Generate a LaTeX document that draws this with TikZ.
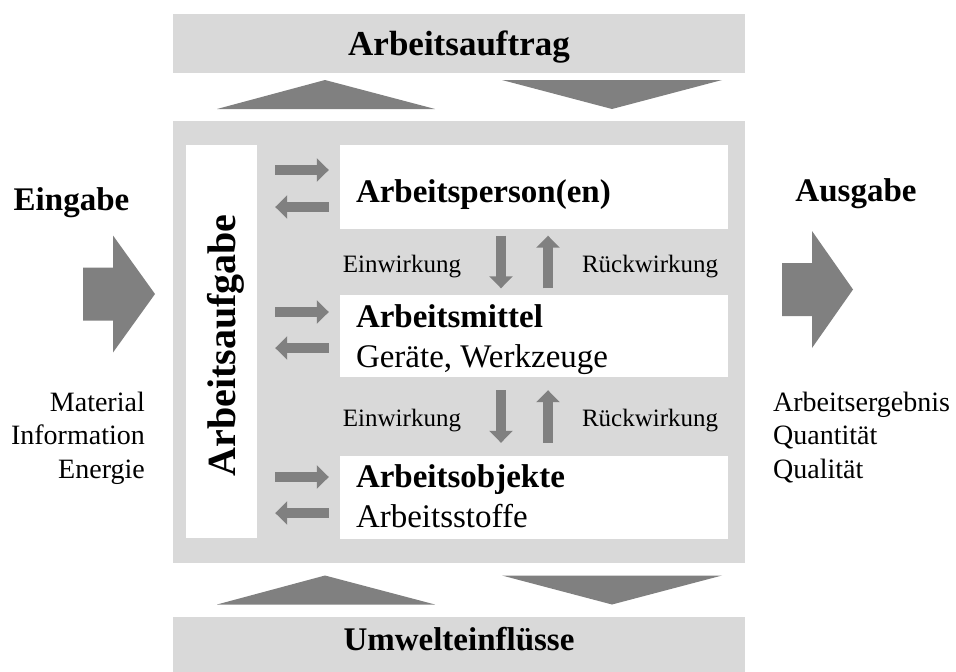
\documentclass[tikz,border=0pt]{standalone}
\usepackage{fontspec}
\setmainfont{Liberation Serif}
\usepackage{tikz}
\usetikzlibrary{arrows.meta,calc}

\definecolor{panelgray}{HTML}{D9D9D9}
\definecolor{arrowgray}{HTML}{808080}

\newcommand{\hdfont}{\fontsize{33}{40}\selectfont\bfseries}
\newcommand{\txfont}{\fontsize{33}{40}\selectfont}
\newcommand{\smfont}{\fontsize{25}{30}\selectfont}
\newcommand{\sdfont}{\fontsize{28}{33}\selectfont}
\newcommand{\vtfont}{\fontsize{40}{48}\selectfont\bfseries}

\begin{document}
\begin{tikzpicture}[
  x=1pt, y=-1pt,
  panel/.style={fill=panelgray, inner sep=0pt, minimum width=572pt},
  whitebox/.style={fill=white, inner sep=0pt},
  title/.style={font=\hdfont, inner sep=0pt, anchor=base},
  boxtitle/.style={font=\hdfont, inner sep=0pt, anchor=base west},
  boxtext/.style={font=\txfont, inner sep=0pt, anchor=base west},
  effect/.style={font=\smfont, text=black, inner sep=0pt},
  sidetext/.style={font=\sdfont, inner sep=0pt},
  flow/.style={line width=10pt, arrowgray, -{Triangle[length=12pt, width=23pt]}},
  wedge/.style={fill=arrowgray},
]

\fill[white] (0,0) rectangle (956,672);
\useasboundingbox (0,0) rectangle (956,672);

% Arbeitsauftrag
\node[panel, minimum height=59pt] (auftrag) at (459,43.5) {};
\node[title, font=\fontsize{35}{40}\selectfont\bfseries] (auftraglbl) at ($(auftrag.center)+(0,11.5)$) {Arbeitsauftrag};
\fill[wedge] (217,109) -- (325,80) -- (435,109) -- cycle;
\fill[wedge] (502,80) -- (722,80) -- (612,109) -- cycle;

% Arbeitssystem
\node[panel, minimum height=442pt] (system) at (459,342) {};

% Arbeitsaufgabe
\node[whitebox, minimum width=71pt, minimum height=393pt] (aufgabe) at (221.5,341.5) {};
\node[font=\vtfont, inner sep=0pt, rotate=90, anchor=base] (aufgabelbl) at (235,345.5) {Arbeitsaufgabe};

% Elemente
\node[whitebox, minimum width=388pt, minimum height=84pt] (person) at (534,187) {};
\node[whitebox, minimum width=388pt, minimum height=82pt] (mittel) at (534,336) {};
\node[whitebox, minimum width=388pt, minimum height=83pt] (objekte) at (534,497.5) {};

\node[boxtitle] (personlbl) at ($(person.west)+(16,15)$) {Arbeitsperson(en)};
\node[boxtitle] (mittellbl) at ($(mittel.north west)+(16,33)$) {Arbeitsmittel};
\node[boxtext] (mittelsub) at ($(mittellbl.base west)+(0,40)$) {Geräte, Werkzeuge};
\node[boxtitle] (objektelbl) at ($(objekte.north west)+(16,32)$) {Arbeitsobjekte};
\node[boxtext] (objektesub) at ($(objektelbl.base west)+(0,40)$) {Arbeitsstoffe};

% Austausch mit der Arbeitsaufgabe
\coordinate (in1) at ($(person.west)+(0,-17)$);
\coordinate (out1) at ($(person.west)+(0,20)$);
\coordinate (in2) at ($(mittel.west)+(0,-24)$);
\coordinate (out2) at ($(mittel.west)+(0,12)$);
\coordinate (in3) at ($(objekte.west)+(0,-20.5)$);
\coordinate (out3) at ($(objekte.west)+(0,15.5)$);

\draw[flow, shorten <=18pt, shorten >=11pt] (aufgabe.east |- in1) -- (in1);
\draw[flow, shorten <=11pt, shorten >=18pt] (out1) -- (aufgabe.east |- out1);
\draw[flow, shorten <=18pt, shorten >=11pt] (aufgabe.east |- in2) -- (in2);
\draw[flow, shorten <=11pt, shorten >=18pt] (out2) -- (aufgabe.east |- out2);
\draw[flow, shorten <=18pt, shorten >=11pt] (aufgabe.east |- in3) -- (in3);
\draw[flow, shorten <=11pt, shorten >=18pt] (out3) -- (aufgabe.east |- out3);

% Einwirkung / Rueckwirkung
\coordinate (downx) at (501,0);
\coordinate (upx) at (548,0);

\draw[flow, shorten <=6.5pt, shorten >=6.5pt] (person.south -| downx) -- (mittel.north -| downx)
  node[effect, midway, anchor=base east, xshift=-35pt, yshift=-10pt] (einw1) {Einwirkung};
\draw[flow, shorten <=6.5pt, shorten >=6.5pt] (mittel.north -| upx) -- (person.south -| upx)
  node[effect, midway, anchor=base west, xshift=29pt, yshift=-10pt] (rueck1) {Rückwirkung};
\draw[flow, shorten <=13pt, shorten >=13pt] (mittel.south -| downx) -- (objekte.north -| downx)
  node[effect, midway, anchor=base east, xshift=-35pt, yshift=-10pt] (einw2) {Einwirkung};
\draw[flow, shorten <=13pt, shorten >=13pt] (objekte.north -| upx) -- (mittel.south -| upx)
  node[effect, midway, anchor=base west, xshift=29pt, yshift=-10pt] (rueck2) {Rückwirkung};

% Umwelteinfluesse
\fill[wedge] (217,604.5) -- (325,575.5) -- (435,604.5) -- cycle;
\fill[wedge] (502,575.5) -- (722,575.5) -- (612,604.5) -- cycle;
\node[panel, minimum height=55pt] (umwelt) at (459,644.5) {};
\node[title] (umweltlbl) at ($(umwelt.center)+(0,5.5)$) {Umwelteinflüsse};

% Eingabe
\node[title] (eingabe) at (71.5,210) {Eingabe};
\fill[wedge] (83,267.5) -- ++(30,0) -- ++(0,-32) -- ++(42,58.5) -- ++(-42,58.5) -- ++(0,-32) -- ++(-30,0) -- cycle;
\node[sidetext, anchor=base east] (material) at (145,411) {Material};
\node[sidetext, anchor=base east] (information) at ($(material.base east)+(0,33.5)$) {Information};
\node[sidetext, anchor=base east] (energie) at ($(information.base east)+(0,33.5)$) {Energie};

% Ausgabe
\node[title] (ausgabe) at (856,201) {Ausgabe};
\fill[wedge] (782,263) -- ++(30,0) -- ++(0,-32) -- ++(41,58.5) -- ++(-41,58.5) -- ++(0,-32) -- ++(-30,0) -- cycle;
\node[sidetext, anchor=base west] (ergebnis) at (773,411) {Arbeitsergebnis};
\node[sidetext, anchor=base west] (quantitaet) at ($(ergebnis.base west)+(0,33.5)$) {Quantität};
\node[sidetext, anchor=base west] (qualitaet) at ($(quantitaet.base west)+(0,33.5)$) {Qualität};

\end{tikzpicture}
\end{document}
